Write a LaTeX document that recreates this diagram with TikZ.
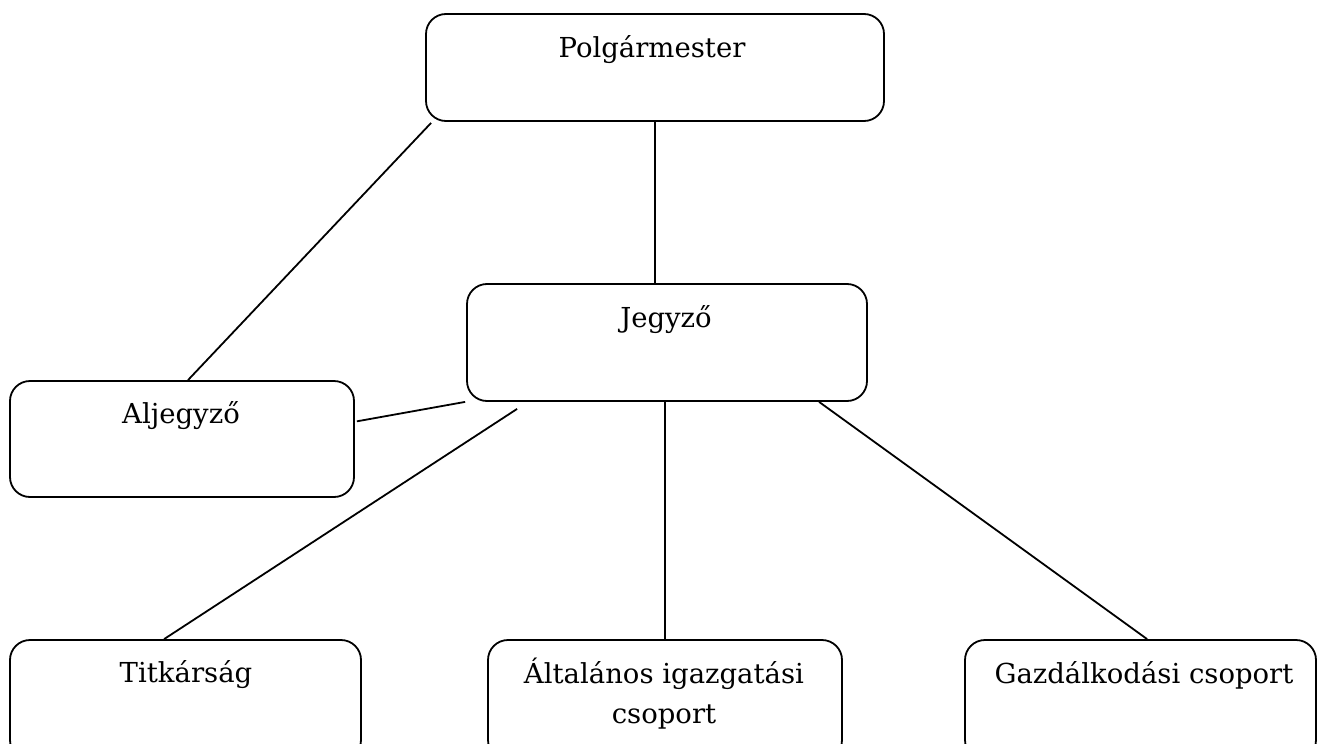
\documentclass[tikz,border=0pt]{standalone}
\usepackage{fontspec}
\setmainfont{DejaVu Serif}
\usetikzlibrary{calc}
\begin{document}
\begin{tikzpicture}[x=1pt,y=-1pt,
  box/.style={draw, line width=1.8pt, rounded corners=20pt, inner sep=0pt},
  lbl/.style={anchor=base, inner sep=0pt, font=\fontsize{27.5}{40}\selectfont, align=center},
  con/.style={line width=1.8pt}]
\useasboundingbox (0,0) rectangle (1318,744);
\clip (0,0) rectangle (1318,744);
% boxes
\node[box, minimum width=458pt, minimum height=107pt] (polg) at (655,67.5) {};
\node[box, minimum width=400pt, minimum height=117pt] (jegy) at (667,342.5) {};
\node[box, minimum width=344pt, minimum height=116pt] (alj) at (182,439) {};
\node[box, minimum width=351pt, minimum height=120pt] (titk) at (185.5,700) {};
\node[box, minimum width=354pt, minimum height=120pt] (alt) at (665,700) {};
\node[box, minimum width=351pt, minimum height=120pt] (gazd) at (1140.5,700) {};
% texts
\node[lbl] (polgT) at (652,57) {Polgármester};
\node[lbl] (jegyT) at (666,327) {Jegyző};
\node[lbl] (aljT) at (181,423) {Aljegyző};
\node[lbl] (titkT) at (186,682) {Titkárság};
\node[lbl] (altT) at (664,723) {Általános igazgatási\\csoport};
\node[lbl] (gazdT) at (1144,683) {Gazdálkodási csoport};
% connectors
\draw[con] ($(polg.south west)+(6,1)$) -- ($(alj.north)+(6,0)$);
\draw[con] (polg.south) -- (polg.south |- jegy.north);
\draw[con] ($(alj.north east)!0.35!(alj.south east)+(2,0)$) -- ($(jegy.south west)+(-1,0)$);
\draw[con] ($(jegy.south west)+(51,7)$) -- ($(titk.north west)+(155,0)$);
\draw[con] (alt.north) -- (alt.north |- jegy.south);
\draw[con] ($(jegy.south west)+(353,0)$) -- ($(gazd.north west)+(183,0)$);
\end{tikzpicture}
\end{document}
